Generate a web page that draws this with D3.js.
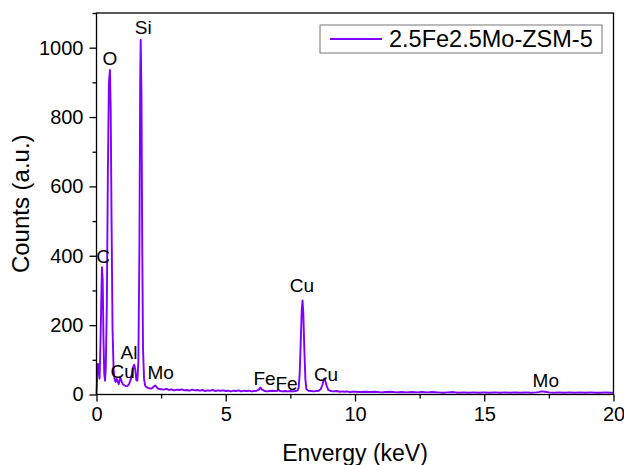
<!DOCTYPE html>
<html>
<head>
<meta charset="utf-8">
<script src="https://cdn.jsdelivr.net/npm/d3@7"></script>
<style>
  body { margin: 0; background: #fff; }
  svg { font-family: "Liberation Sans", Arial, sans-serif; }
</style>
</head>
<body>
<svg id="chart" width="624" height="465"></svg>
<script>
// EDS spectrum, energy in keV and counts read point by point
var energy = [
  0.00, 0.03, 0.06, 0.09, 0.12, 0.15, 0.18, 0.21, 0.24, 0.27, 0.30, 0.33,
  0.36, 0.40, 0.44, 0.48, 0.52, 0.55, 0.58, 0.62, 0.66, 0.70, 0.74, 0.78,
  0.82, 0.86, 0.90, 0.93, 0.97, 1.02, 1.08, 1.14, 1.20, 1.26, 1.32, 1.37,
  1.42, 1.46, 1.50, 1.54, 1.58, 1.62, 1.66, 1.69, 1.71, 1.74, 1.77, 1.80,
  1.84, 1.88, 1.93, 1.99, 2.05, 2.12, 2.18, 2.23, 2.27, 2.32, 2.38, 2.45,
  2.5, 2.6, 2.7, 2.8, 2.9, 3.0, 3.1, 3.2, 3.3, 3.4, 3.5, 3.6, 3.7, 3.8, 3.9,
  4.0, 4.1, 4.2, 4.3, 4.4, 4.5, 4.6, 4.7, 4.8, 4.9, 5.0, 5.1, 5.2, 5.3, 5.4,
  5.5, 5.6, 5.7, 5.8, 5.9, 6.0, 6.1, 6.2, 6.28, 6.34, 6.40, 6.5, 6.6, 6.7,
  6.8, 6.9, 7.0, 7.05, 7.1, 7.2, 7.3, 7.4, 7.5, 7.6, 7.7, 7.78, 7.82, 7.86,
  7.90, 7.94, 7.97, 8.00, 8.04, 8.08, 8.12, 8.2, 8.3, 8.4, 8.5, 8.6, 8.68,
  8.74, 8.78, 8.81, 8.85, 8.90, 8.96, 9.05, 9.15, 9.3, 9.4, 9.5, 9.6, 9.7,
  9.8, 9.9, 10.0, 10.2, 10.4, 10.6, 10.8, 11.0, 11.2, 11.4, 11.6, 11.8,
  12.0, 12.2, 12.4, 12.6, 12.8, 13.0, 13.2, 13.4, 13.6, 13.8, 14.0, 14.2,
  14.4, 14.6, 14.8, 15.0, 15.2, 15.4, 15.6, 15.8, 16.0, 16.2, 16.4, 16.6,
  16.8, 17.0, 17.1, 17.22, 17.35, 17.5, 17.7, 17.9, 18.1, 18.3, 18.5, 18.7,
  18.9, 19.1, 19.3, 19.5, 19.7, 19.9, 20.0
];
var counts = [
  0, 55, 88, 72, 46, 140, 250, 367, 330, 160, 60, 40,
  80, 260, 640, 900, 936, 820, 520, 190, 75, 44, 36, 45,
  38, 30, 42, 48, 38, 30, 26, 24, 25, 30, 42, 60,
  80, 86, 72, 42, 40, 95, 420, 900, 1023, 860, 420, 130,
  45, 26, 21, 19, 18, 17, 20, 24, 26, 22, 17, 16,
  15, 14, 16, 13, 15, 12, 14, 13, 15, 12, 13, 11, 14, 12, 13,
  11, 13, 10, 12, 11, 13, 10, 12, 11, 12, 10, 11, 9, 11, 10,
  12, 9, 11, 10, 11, 9, 10, 11, 14, 20, 14, 10, 9, 10,
  11, 10, 11, 13, 10, 9, 10, 9, 10, 9, 10, 12, 20, 60,
  150, 245, 271, 235, 130, 45, 15, 11, 10, 9, 10, 11, 16,
  28, 40, 46, 40, 26, 14, 10, 9, 10, 8, 9, 8, 9,
  7, 8, 8, 7, 8, 7, 8, 6, 7, 8, 6, 7,
  6, 7, 6, 7, 6, 7, 6, 5, 6, 7, 5, 6,
  5, 6, 5, 6, 5, 6, 5, 6, 5, 6, 5, 6,
  5, 6, 7, 9, 8, 6, 5, 6, 5, 6, 5, 6,
  5, 6, 5, 5, 6, 5, 5
];

// element labels placed over their peaks
var peakLabels = ["C", "O", "Si", "Cu", "Al", "Mo", "Fe", "Fe", "Cu", "Cu", "Mo"];
var peakEnergy = [0.26, 0.52, 1.81, 1.01, 1.26, 2.48, 6.50, 7.35, 7.95, 8.88, 17.38];
var peakCounts = [380, 950, 1040, 47, 102, 45, 28, 12, 295, 40, 22];

var xTicks = [0, 5, 10, 15, 20];
var yTicks = [0, 200, 400, 600, 800, 1000];
var xMinor = [2.5, 7.5, 12.5, 17.5];
var yMinor = [100, 300, 500, 700, 900, 1100];
var seriesName = "2.5Fe2.5Mo-ZSM-5";
var lineColor = "#7f00ff";

var svg = d3.select("#chart");
var plotLeft = 96.5, plotRight = 613.5, plotTop = 13, plotBottom = 394.5;

var x = d3.scaleLinear().domain([0, 20]).range([plotLeft, plotRight]);
var y = d3.scaleLinear().domain([0, 1100]).range([plotBottom, plotTop]);

// spectrum line
var pts = energy.map(function(e, i) { return [e, counts[i]]; });
var line = d3.line().x(function(d) { return x(d[0]); }).y(function(d) { return y(d[1]); });
svg.append("path")
  .datum(pts)
  .attr("d", line)
  .attr("fill", "none")
  .attr("stroke", lineColor)
  .attr("stroke-width", 1.9)
  .attr("stroke-linejoin", "round");

// frame
svg.append("rect")
  .attr("x", plotLeft).attr("y", plotTop)
  .attr("width", plotRight - plotLeft).attr("height", plotBottom - plotTop)
  .attr("fill", "none").attr("stroke", "#000").attr("stroke-width", 1.3);

// axes with major and minor ticks
svg.append("g").attr("transform", "translate(0," + plotBottom + ")")
  .call(d3.axisBottom(x).tickValues(xTicks).tickSize(7).tickPadding(5).tickFormat(d3.format("d")));
svg.append("g").attr("transform", "translate(0," + plotBottom + ")")
  .call(d3.axisBottom(x).tickValues(xMinor).tickSize(4).tickFormat(""));
svg.append("g").attr("transform", "translate(" + plotLeft + ",0)")
  .call(d3.axisLeft(y).tickValues(yTicks).tickSize(7).tickPadding(6).tickFormat(d3.format("d")));
svg.append("g").attr("transform", "translate(" + plotLeft + ",0)")
  .call(d3.axisLeft(y).tickValues(yMinor).tickSize(4).tickFormat(""));

svg.selectAll(".domain").remove();
svg.selectAll(".tick line").attr("stroke", "#000").attr("stroke-width", 1.3);
svg.selectAll(".tick text").attr("font-size", 20).attr("fill", "#000")
  .attr("font-family", "Liberation Sans, Arial, sans-serif");

// axis titles
svg.append("text")
  .attr("x", (plotLeft + plotRight) / 2).attr("y", 461)
  .attr("text-anchor", "middle").attr("font-size", 23)
  .text("Envergy (keV)");
svg.append("text")
  .attr("transform", "translate(29," + (plotTop + plotBottom) / 2 + ") rotate(-90)")
  .attr("text-anchor", "middle").attr("font-size", 24)
  .text("Counts (a.u.)");

// peak labels
svg.selectAll(".peak")
  .data(peakLabels)
  .enter().append("text")
  .attr("class", "peak")
  .attr("x", function(d, i) { return x(peakEnergy[i]); })
  .attr("y", function(d, i) { return y(peakCounts[i]); })
  .attr("text-anchor", "middle")
  .attr("font-size", 19)
  .text(function(d) { return d; });

// legend
var legend = svg.append("g");
legend.append("rect")
  .attr("x", 320).attr("y", 25).attr("width", 282).attr("height", 28)
  .attr("fill", "#fff").attr("stroke", "#777").attr("stroke-width", 1);
legend.append("line")
  .attr("x1", 330).attr("x2", 382).attr("y1", 39).attr("y2", 39)
  .attr("stroke", lineColor).attr("stroke-width", 1.9);
legend.append("text")
  .attr("x", 389).attr("y", 47)
  .attr("font-size", 23.5)
  .text(seriesName);
</script>
</body>
</html>
